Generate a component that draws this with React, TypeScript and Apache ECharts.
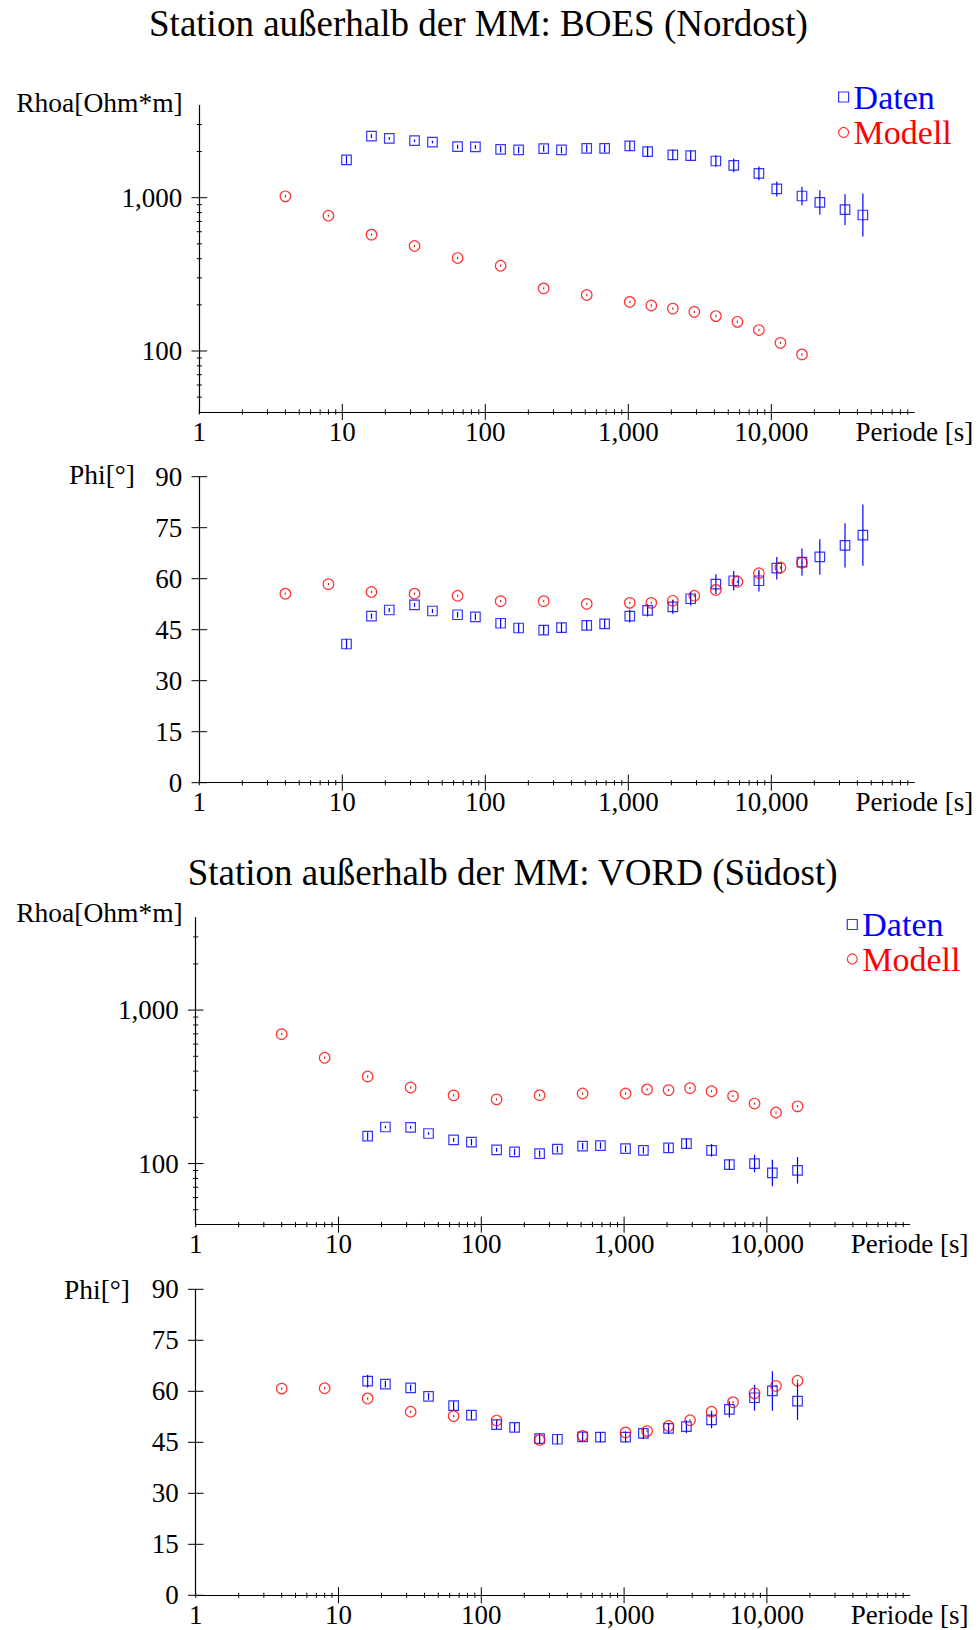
import React, { useEffect, useRef } from 'react';
import * as echarts from 'echarts';

const FONT = 'Liberation Serif';
const BLUE = '#0000ff';
const RED = '#ff0000';

// Perioden [s]
const boesPeriods = [10.7, 16, 21.3, 32, 42.7, 64, 85.3, 128, 171, 256, 341, 512, 683, 1024, 1365, 2048, 2731, 4096, 5461, 8192, 10923, 16384, 21845, 32768, 43691];
const vordPeriods = [16, 21.3, 32, 42.7, 64, 85.3, 128, 171, 256, 341, 512, 683, 1024, 1365, 2048, 2731, 4096, 5461, 8192, 10923, 16384];
const modelPeriods = [4, 8, 16, 32, 64, 128, 256, 512, 1024, 1448, 2048, 2896, 4096, 5793, 8192, 11585, 16384];

// BOES (Nordost)
const boesRhoData = [1763, 2524, 2438, 2354, 2307, 2152, 2144, 2069, 2048, 2090, 2048, 2100, 2100, 2175, 1996, 1900, 1880, 1735, 1626, 1442, 1140, 1026, 933, 835, 771];
const boesRhoErrPct = [6, 3, 2, 2, 2, 3, 3, 5, 5, 5, 5, 6, 6, 7, 8, 8, 8, 9, 11, 11, 12, 15, 20, 26, 38];
const boesRhoModel = [1021, 763, 574, 484, 404, 360, 256, 232, 209, 198, 189, 180, 169, 155, 137, 113, 95];
const boesPhiData = [40.8, 49.0, 50.8, 52.3, 50.5, 49.4, 48.8, 46.9, 45.5, 44.9, 45.6, 46.3, 46.7, 49.0, 50.7, 51.7, 54.1, 58.4, 59.4, 59.4, 63.1, 64.9, 66.4, 69.8, 72.8];
const boesPhiErr = [1.5, 0.8, 0.6, 0.6, 0.6, 0.8, 1.0, 1.4, 1.4, 1.4, 1.4, 1.4, 1.4, 1.9, 1.8, 2.0, 2.0, 2.9, 2.9, 3.2, 3.3, 4.0, 5.2, 6.5, 9.0];
const boesPhiModel = [55.6, 58.4, 56.1, 55.6, 55.0, 53.4, 53.4, 52.6, 52.9, 52.9, 53.5, 55.0, 56.7, 59.1, 61.6, 63.3, 64.7];

// VORD (Südost)
const vordRhoData = [150.7, 173, 172, 157, 142.6, 137.7, 122.8, 119, 116, 124, 129.7, 131, 125, 122, 126.5, 135, 122, 98.5, 100, 86.9, 90.3];
const vordRhoErrPct = [6, 2, 2, 2, 3, 5, 3, 5, 5, 5, 5, 5, 5, 5, 6, 8, 10, 8, 14, 22, 22];
const vordRhoModel = [697, 489, 369, 313, 278, 262, 279, 286, 286, 304, 301, 310, 296, 275, 246, 215, 236];
const vordPhiData = [63.0, 62.1, 61.0, 58.5, 55.8, 53.0, 50.2, 49.4, 46.1, 45.9, 46.6, 46.5, 46.5, 47.6, 49.1, 49.6, 51.6, 54.7, 58.1, 60.1, 57.1];
const vordPhiErr = [1.9, 1.0, 1.0, 1.0, 1.3, 1.3, 1.3, 1.3, 1.5, 1.5, 1.5, 1.5, 1.6, 1.6, 1.6, 1.9, 2.5, 2.4, 3.8, 5.8, 5.5];
const vordPhiModel = [60.8, 60.9, 57.9, 54.0, 52.7, 51.4, 45.7, 46.9, 47.9, 48.3, 49.8, 51.5, 54.0, 56.8, 59.4, 61.6, 63.1];

// Achsen / Ticks
const xMajorTicks = [10, 100, 1000, 10000];
const xDecades = [1, 10, 100, 1000, 10000];
const minorMultipliers = [2, 3, 4, 5, 6, 7, 8, 9];
const rhoMajorTicks = [100, 1000];
const rhoMinorTicks = [50, 60, 70, 80, 90, 200, 300, 400, 500, 600, 700, 800, 900, 2000, 3000];
const phiTicks = [0, 15, 30, 45, 60, 75, 90];

const titles = ['Station außerhalb der MM: BOES (Nordost)', 'Station außerhalb der MM: VORD (Südost)'];

const gridBoxes = [
  { left: 199.3, top: 105.4, width: 715, height: 306.6 },
  { left: 199.3, top: 476.7, width: 715, height: 306 },
  { left: 195.7, top: 917.7, width: 714, height: 306.9 },
  { left: 195.7, top: 1289.3, width: 714, height: 306 },
];

function fmtX(v: number) {
  const r = Math.round(v);
  if (r >= 100000) return 'Periode [s]';
  return r.toString().replace(/\B(?=(\d{3})+(?!\d))/g, ',');
}
function fmtRho(v: number) {
  const l = Math.log10(v);
  if (Math.abs(l - Math.round(l)) > 1e-6) return '';
  return Math.round(v).toString().replace(/\B(?=(\d{3})+(?!\d))/g, ',');
}

function buildOption() {
  const xMinor: number[] = [1];
  xDecades.forEach((d) => minorMultipliers.forEach((m) => xMinor.push(d * m)));

  const grid = gridBoxes.map((g) => ({ ...g, outerBoundsMode: 'none', containLabel: false }));

  const xAxis = gridBoxes.map((_, i) => ({
    type: 'log',
    logBase: 10,
    gridIndex: i,
    min: 1,
    max: 100000,
    axisLine: { onZero: false, lineStyle: { color: '#000', width: 1.2 } },
    axisTick: { show: false },
    splitLine: { show: false },
    axisLabel: { margin: 6, color: '#000', fontSize: 27, fontFamily: FONT, formatter: fmtX },
  }));

  const yAxis = gridBoxes.map((_, i) => {
    const isRho = i % 2 === 0;
    const common = {
      gridIndex: i,
      axisLine: { onZero: false, lineStyle: { color: '#000', width: 1.2 } },
      axisTick: { show: false },
      splitLine: { show: false },
    };
    if (isRho) {
      return {
        ...common,
        type: 'log',
        logBase: 10,
        min: 40,
        max: 4000,
        axisLabel: { margin: 17, color: '#000', fontSize: 27, fontFamily: FONT, formatter: fmtRho },
      };
    }
    return {
      ...common,
      type: 'value',
      min: 0,
      max: 90,
      interval: 15,
      axisLabel: { margin: 17, color: '#000', fontSize: 27, fontFamily: FONT },
    };
  });

  const panels = [
    { periods: boesPeriods, data: boesRhoData, err: boesRhoErrPct, model: boesRhoModel, rho: true },
    { periods: boesPeriods, data: boesPhiData, err: boesPhiErr, model: boesPhiModel, rho: false },
    { periods: vordPeriods, data: vordRhoData, err: vordRhoErrPct, model: vordRhoModel, rho: true },
    { periods: vordPeriods, data: vordPhiData, err: vordPhiErr, model: vordPhiModel, rho: false },
  ];

  const series: any[] = [];
  panels.forEach((p, i) => {
    const errData = p.periods.map((t, k) => {
      const v = p.data[k];
      const e = p.err[k];
      return p.rho ? [t, v / (1 + e / 100), v * (1 + e / 100)] : [t, v - e, v + e];
    });
    series.push({
      name: 'Fehler',
      type: 'custom',
      xAxisIndex: i,
      yAxisIndex: i,
      silent: true,
      clip: false,
      z: 3,
      encode: { x: 0, y: [1, 2] },
      data: errData,
      renderItem: (params: any, api: any) => {
        const a = api.coord([api.value(0), api.value(1)]);
        const b = api.coord([api.value(0), api.value(2)]);
        return {
          type: 'line',
          shape: { x1: a[0], y1: a[1], x2: b[0], y2: b[1] },
          style: { stroke: BLUE, lineWidth: 1.2 },
        };
      },
    });
    series.push({
      name: 'Daten',
      type: 'scatter',
      xAxisIndex: i,
      yAxisIndex: i,
      symbol: 'rect',
      symbolSize: 9.5,
      silent: true,
      z: 4,
      itemStyle: { color: 'rgba(0,0,0,0)', borderColor: BLUE, borderWidth: 1.2 },
      data: p.periods.map((t, k) => [t, p.data[k]]),
    });
    series.push({
      name: 'Modell',
      type: 'scatter',
      xAxisIndex: i,
      yAxisIndex: i,
      symbol: 'circle',
      symbolSize: 10.5,
      silent: true,
      z: 5,
      itemStyle: { color: 'rgba(0,0,0,0)', borderColor: RED, borderWidth: 1.2 },
      data: modelPeriods.map((t, k) => [t, p.model[k]]),
    });
    series.push({
      name: 'ModellMitte',
      type: 'scatter',
      xAxisIndex: i,
      yAxisIndex: i,
      symbol: 'rect',
      symbolSize: [1.2, 2.4],
      silent: true,
      z: 5,
      itemStyle: { color: '#b00000' },
      data: modelPeriods.map((t, k) => [t, p.model[k]]),
    });

    // Ticks: [x, y, dir(0 = x axis, 1 = y axis), half-length]
    const yMin = p.rho ? 40 : 0;
    const tickData: number[][] = [];
    xMajorTicks.forEach((v) => tickData.push([v, yMin, 0, 8]));
    xMinor.forEach((v) => tickData.push([v, yMin, 0, 2.6]));
    if (p.rho) {
      rhoMajorTicks.forEach((v) => tickData.push([1, v, 1, 7.8]));
      rhoMinorTicks.forEach((v) => tickData.push([1, v, 1, 2.5]));
    } else {
      phiTicks.forEach((v) => tickData.push([1, v, 1, 7.8]));
    }
    series.push({
      name: 'Ticks',
      type: 'custom',
      xAxisIndex: i,
      yAxisIndex: i,
      silent: true,
      clip: false,
      z: 6,
      encode: { x: 0, y: 1 },
      data: tickData,
      renderItem: (params: any, api: any) => {
        const pt = api.coord([api.value(0), api.value(1)]);
        const dir = api.value(2);
        const len = api.value(3);
        const shape =
          dir === 0
            ? { x1: pt[0], y1: pt[1] - len, x2: pt[0], y2: pt[1] + len }
            : { x1: pt[0] - len, y1: pt[1], x2: pt[0] + len, y2: pt[1] };
        return { type: 'line', shape, style: { stroke: '#000', lineWidth: 1 } };
      },
    });
  });

  const legendBase = {
    orient: 'vertical',
    itemWidth: 10,
    itemHeight: 10,
    padding: 0,
    selectedMode: false,
    itemStyle: { borderWidth: 1.2 },
    textStyle: { fontSize: 34, fontFamily: FONT, lineHeight: 30 },
    data: [
      { name: 'Daten', textStyle: { color: BLUE } },
      { name: 'Modell', textStyle: { color: RED } },
    ],
  };

  const text = (t: string, x: number, y: number, size: number, align: string) => ({
    type: 'text',
    x,
    y,
    silent: true,
    style: {
      text: t,
      fill: '#000',
      fontSize: size,
      fontFamily: FONT,
      align,
      verticalAlign: 'middle',
      textAlign: align,
      textVerticalAlign: 'middle',
    },
  });

  return {
    animation: false,
    backgroundColor: '#fff',
    grid,
    xAxis,
    yAxis,
    series,
    legend: [
      { ...legendBase, left: 838, top: 80, itemGap: 1.5 },
      { ...legendBase, left: 846.7, top: 907.5, itemGap: 0.5 },
    ],
    graphic: [
      text(titles[0], 478.4, 23, 37, 'center'),
      text(titles[1], 512.6, 872, 37, 'center'),
      text('Rhoa[Ohm*m]', 182.7, 102.5, 27.5, 'right'),
      text('Rhoa[Ohm*m]', 182.7, 912, 27.5, 'right'),
      text('Phi[°]', 135, 474, 27.5, 'right'),
      text('Phi[°]', 130, 1289.7, 27.5, 'right'),
    ],
  };
}

export default function App() {
  const ref = useRef<HTMLDivElement>(null);
  useEffect(() => {
    if (!ref.current) return;
    const chart = echarts.init(ref.current, undefined, { renderer: 'svg' });
    chart.setOption(buildOption() as any);
    return () => chart.dispose();
  }, []);
  return (
    <div
      ref={ref}
      style={{ position: 'absolute', left: 0, top: 0, width: 979, height: 1630, background: '#fff' }}
    />
  );
}
